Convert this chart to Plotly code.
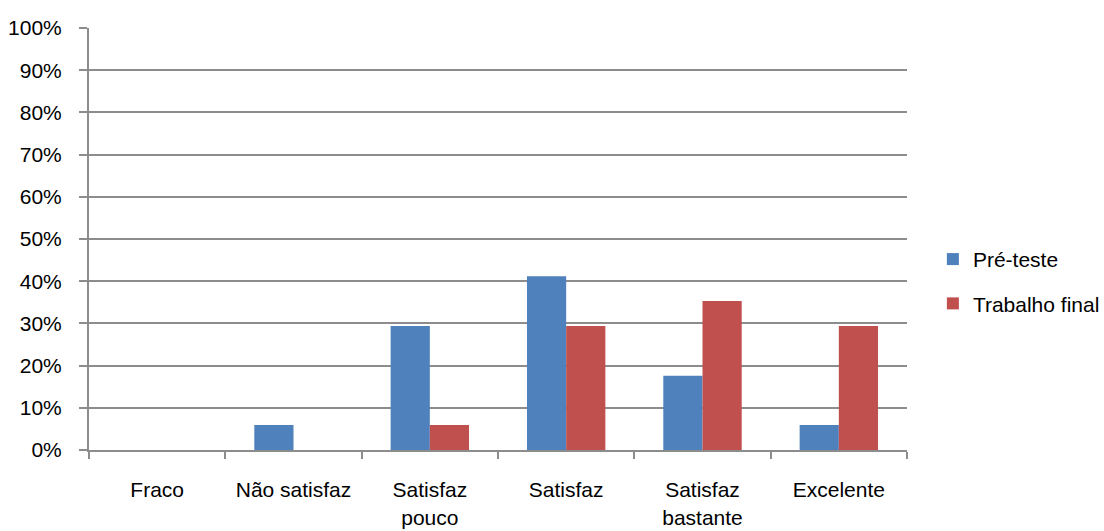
import plotly.graph_objects as go

categories = ["Fraco", "Não satisfaz", "Satisfaz<br>pouco", "Satisfaz", "Satisfaz<br>bastante", "Excelente"]
pre_teste = [0, 5.9, 29.4, 41.2, 17.6, 5.9]
trabalho_final = [0, 0, 5.9, 29.4, 35.3, 29.4]
y_ticks = list(range(0, 101, 10))
y_labels = [f"{v}%" for v in y_ticks]

font_family = "Liberation Sans, Arial, sans-serif"
grid_col = "#8c8c8c"

fig = go.Figure()
fig.add_trace(go.Bar(name="Pré-teste", x=categories, y=pre_teste, marker_color="#4F81BD",
                     marker_line_width=0, legendgroup="a"))
fig.add_trace(go.Bar(name="Trabalho final", x=categories, y=trabalho_final, marker_color="#C0504D",
                     marker_line_width=0, legendgroup="b"))

fig.update_layout(
    width=1104, height=531,
    margin=dict(l=89, r=197, t=28, b=81),
    paper_bgcolor="white", plot_bgcolor="white",
    barmode="group", bargap=0.425, bargroupgap=0,
    font=dict(family=font_family, size=21, color="black"),
    legend=dict(xref="container", yref="container", x=0.845, y=0.47, xanchor="left", yanchor="middle",
                tracegroupgap=14, font=dict(size=21), itemwidth=30, bgcolor="rgba(0,0,0,0)"),
)
fig.update_xaxes(type="category", tickson="boundaries", ticks="outside", ticklen=7, tickcolor=grid_col,
                 tickwidth=2, showline=True, linecolor=grid_col, linewidth=2, showgrid=False,
                 tickfont=dict(size=21), ticklabelstandoff=20, automargin=False)
fig.update_yaxes(range=[0, 100], tickvals=y_ticks, ticktext=y_labels, ticks="outside", ticklen=8,
                 tickcolor=grid_col, tickwidth=2, showline=True, linecolor=grid_col, linewidth=2,
                 showgrid=True, gridcolor=grid_col, gridwidth=1.5, zeroline=False,
                 tickfont=dict(size=21), ticklabelstandoff=13, automargin=False)

fig.write_html("out.html")
